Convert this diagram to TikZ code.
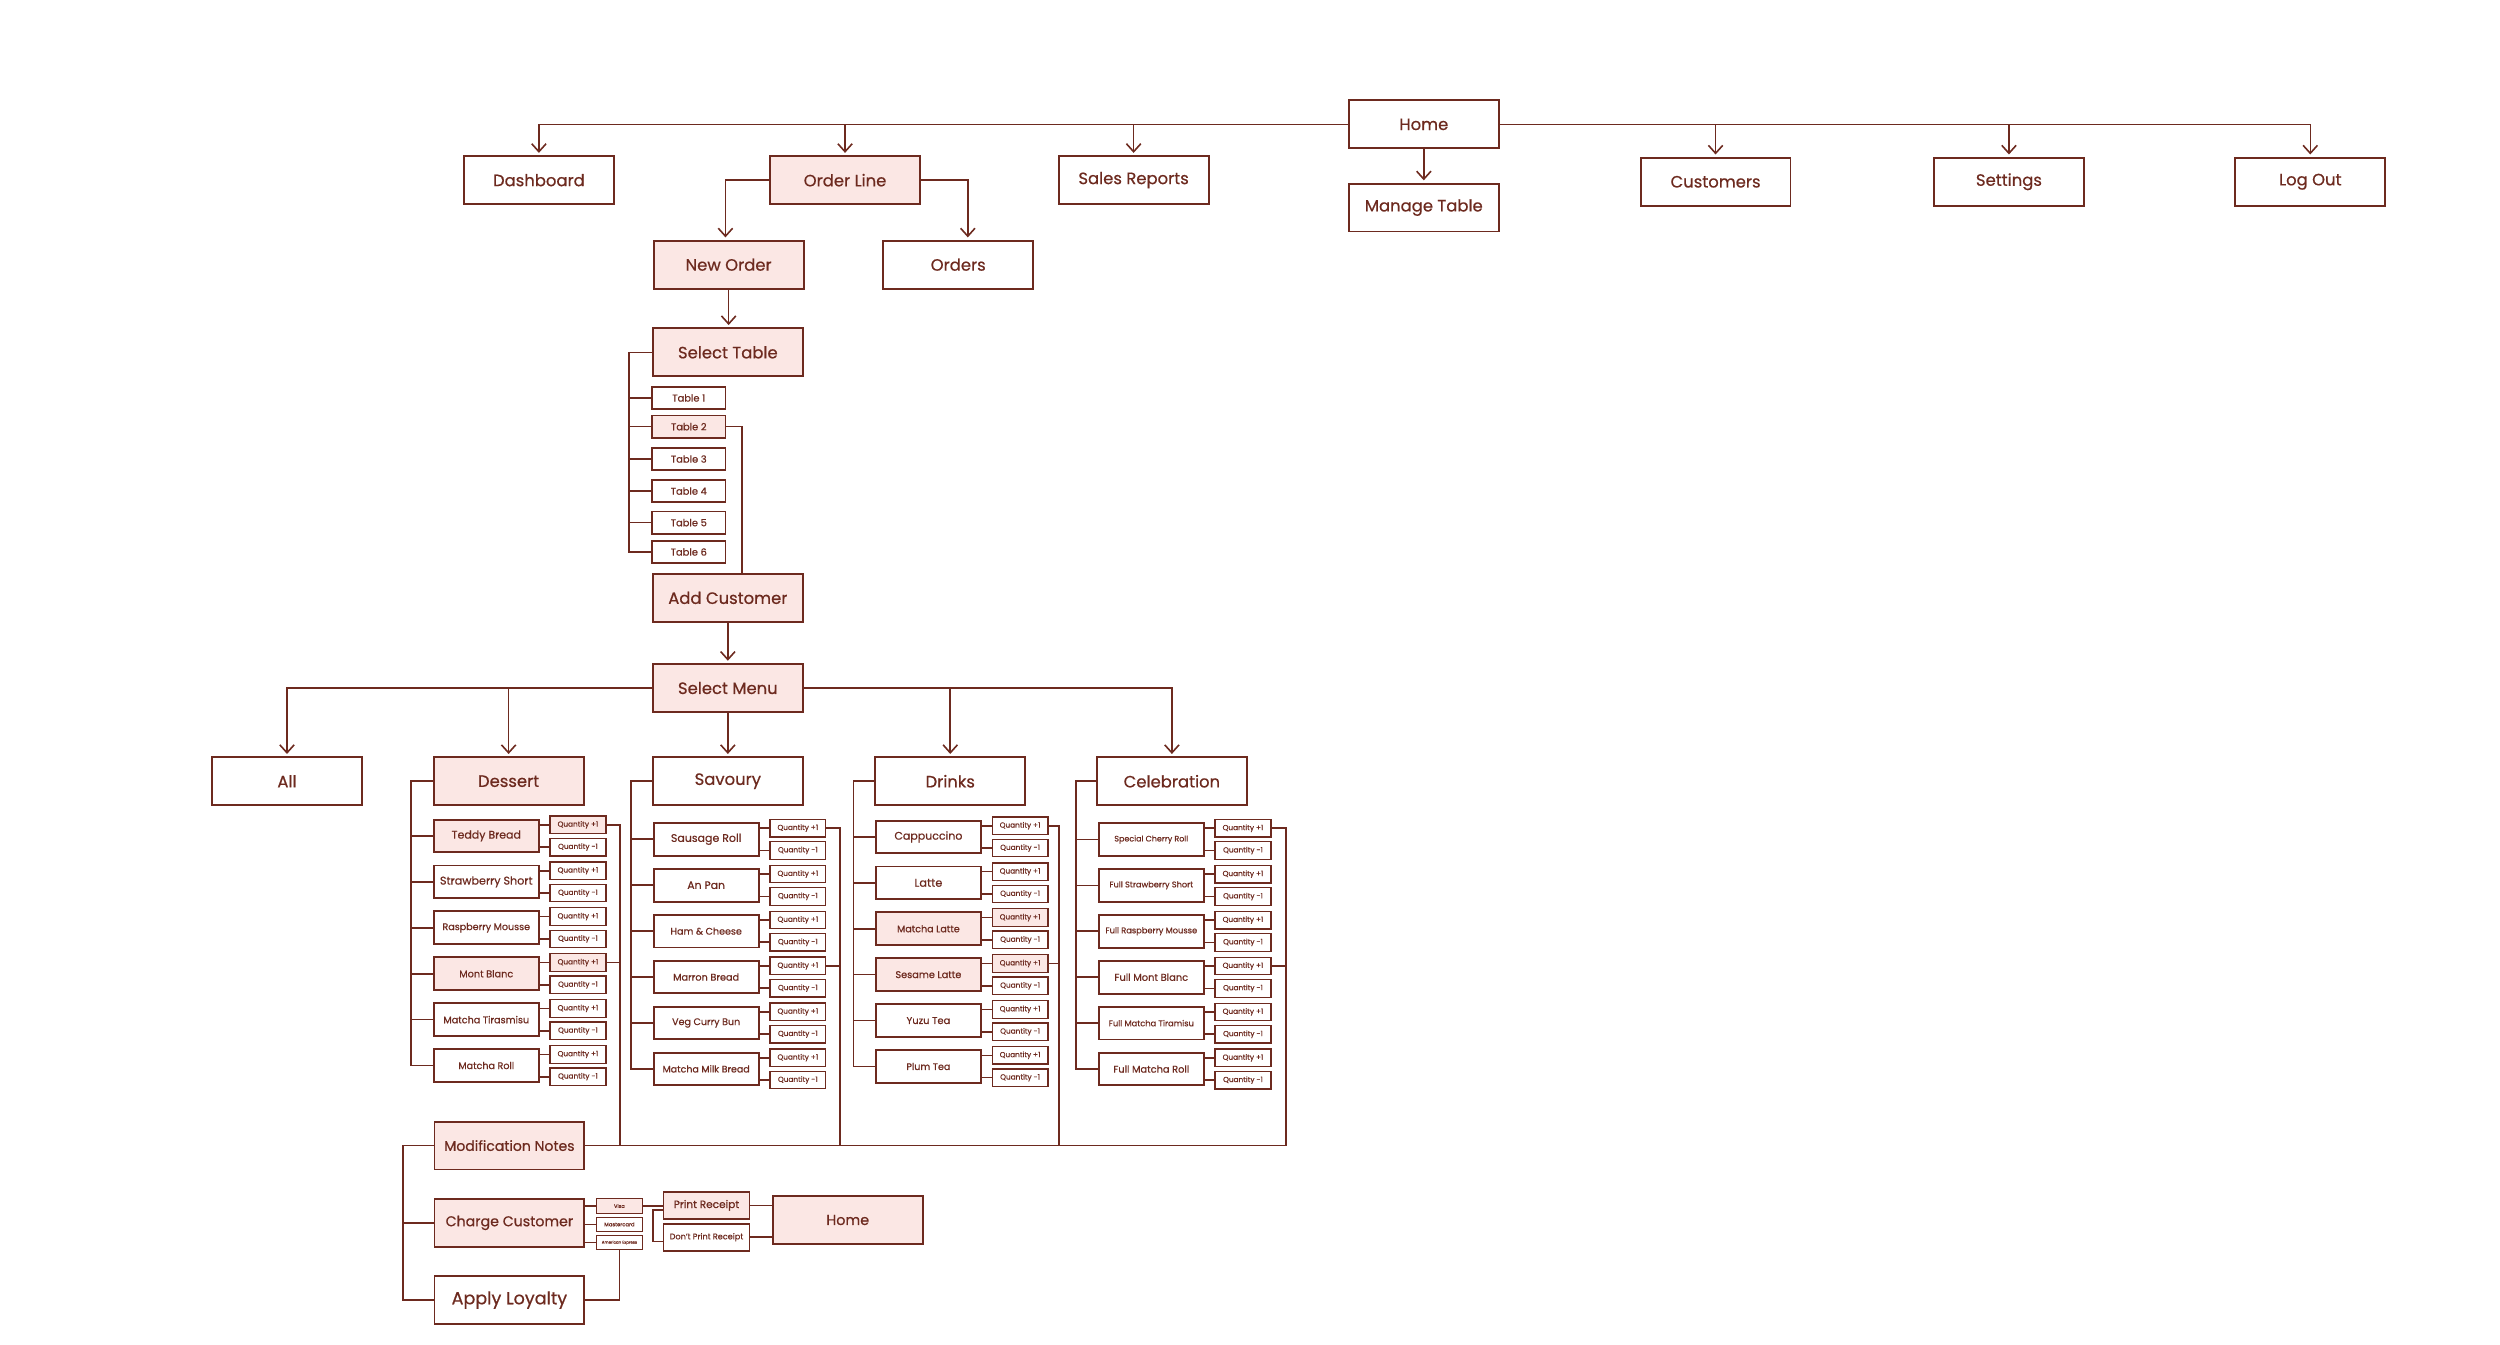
\documentclass[tikz,border=0pt]{standalone}
\usepackage{fontspec}
\setmainfont{Poppins}[FakeBold=0.6]
\usetikzlibrary{arrows.meta,positioning}

\definecolor{maroon}{HTML}{6D2A1F}
\definecolor{blush}{HTML}{FBE7E4}

\begin{document}
\begin{tikzpicture}[
  x=1pt, y=-1pt,
  box/.style={draw=maroon, line width=1.2pt, text=maroon, inner sep=0pt, minimum width=94pt, minimum height=30pt, font=\fontsize{10.3}{12}\selectfont},
  hl/.style={fill=blush},
  tbl/.style={box, line width=1pt, minimum width=46pt, minimum height=14pt, font=\fontsize{6.2}{7}\selectfont},
  item/.style={box, minimum width=66pt, minimum height=20.5pt},
  qty/.style={box, line width=0.8pt, minimum width=35pt, minimum height=11pt, font=\fontsize{4.6}{5}\selectfont},
  card/.style={box, line width=0.8pt, minimum width=29pt, minimum height=9pt, font=\fontsize{3.2}{3.5}\selectfont},
  rcpt/.style={box, line width=1pt, minimum width=54pt, minimum height=17pt, font=\fontsize{6.6}{7}\selectfont},
  link/.style={draw=maroon, line width=1pt},
  arrow/.style={link, -{Straight Barb[length=5pt,width=9pt]}, shorten >=1.5pt}
]
\useasboundingbox (0,0) rectangle (1568,843);
% 顶层导航
\node[box] (home) at (893,78) {Home};
\node[box] (dash) at (338,113) {Dashboard};
\node[box, hl] (orderline) at (530,113) {Order Line};
\node[box] (sales) at (711,113) {Sales Reports};
\node[box, below=21pt of home] (mtable) {Manage Table};
\node[box] (cust) at (1076,114) {Customers};
\node[box] (sett) at (1260,114) {Settings};
\node[box] (logout) at (1449,114) {Log Out};
\foreach \t in {dash,orderline,sales} \draw[arrow] (home.west) -| (\t.north);
\foreach \t in {cust,sett,logout} \draw[arrow] (home.east) -| (\t.north);
\draw[arrow] (home) -- (mtable);
% 下单流程
\node[box, hl] (neworder) at (457,166) {New Order};
\node[box] (orders) at (601,166) {Orders};
\draw[arrow] (orderline.west) -| ([xshift=-2pt]neworder.north);
\draw[arrow] (orderline.east) -| ([xshift=6pt]orders.north);
\node[box, hl] (seltable) at (456.5,221) {Select Table};
\draw[arrow] (neworder.south) -- (neworder.south |- seltable.north);
\foreach \i/\y/\s in {1/249.6/, 2/267.6/hl, 3/287.9/, 4/308/, 5/327.8/, 6/346.2/}
  \node[tbl, \s] (t\i) at (432,\y) {Table \i};
\draw[link] (seltable.west) -| ([xshift=-14pt]t6.west) -- (t6.west);
\foreach \i in {1,...,5} \draw[link] (t\i.west) -- ++(-14,0);
\node[box, hl] (addcust) at (456.5,375) {Add Customer};
\draw[link] (t2.east) -| ([xshift=9pt]addcust.north);
\node[box, hl] (selmenu) at (456.5,431.5) {Select Menu};
\draw[arrow] (addcust) -- (selmenu);
% 菜单分类
\node[box] (all) at (180,490) {All};
\node[box, hl] (dessert) at (319,490) {Dessert};
\node[box] (savoury) at (456.5,490) {Savoury};
\node[box] (drinks) at (596,490) {Drinks};
\node[box] (celeb) at (735,490) {Celebration};
\foreach \c in {all,dessert} \draw[arrow] (selmenu.west) -| (\c.north);
\foreach \c in {drinks,celeb} \draw[arrow] (selmenu.east) -| (\c.north);
\draw[arrow] (selmenu) -- (savoury);
% 底部结账
\node[box, hl, font=\fontsize{8.8}{10}\selectfont] (modnotes) at (319.5,718.5) {Modification Notes};
\node[box, hl, font=\fontsize{8.9}{10}\selectfont] (chargec) at (319.5,767) {Charge Customer};
\node[box, font=\fontsize{11}{12}\selectfont] (loyalty) at (319.5,815.4) {Apply Loyalty};
\draw[link] (modnotes.west) -- ++(-19,0) |- (loyalty.west);
\draw[link] (chargec.west) -- ++(-19,0);
% 甜品
\foreach \n/\lab/\s/\f in {1/Teddy Bread/hl/6.9, 2/Strawberry Short//7, 3/Raspberry Mousse//6, 4/Mont Blanc/hl/6.1, 5/Matcha Tirasmisu//6.05, 6/Matcha Roll//6} {
  \node[item, \s, font=\fontsize{\f}{8}\selectfont] (des\n) at (305,{524.3+28.8*(\n-1)}) {\lab};
  \node[qty, \s, anchor=west] (des\n p) at ([xshift=6pt, yshift=7pt]des\n.east) {Quantity +1};
  \node[qty, anchor=west] (des\n m) at ([xshift=6pt, yshift=-7pt]des\n.east) {Quantity -1};
  \draw[link] (des\n p.west -| des\n.east) -- (des\n p.west);
  \draw[link] (des\n m.west -| des\n.east) -- (des\n m.west);
}
\draw[link] (dessert.west) -| ([xshift=-13.5pt]des6.west) -- (des6.west);
\foreach \n in {1,...,5} \draw[link] (des\n.west) -- ++(-13.5,0);
\draw[link] (des1p.east) -- ++(8.6,0) |- (modnotes.east);
\draw[link] (des4p.east) -- ++(8.6,0);
% 咸点
\foreach \n/\lab/\f in {1/Sausage Roll/6.9, 2/An Pan/6.8, 3/Ham \& Cheese/6, 4/Marron Bread/6.1, 5/Veg Curry Bun/6, 6/Matcha Milk Bread/5.95} {
  \node[item, font=\fontsize{\f}{8}\selectfont] (sav\n) at (442.9,{526.4+28.8*(\n-1)}) {\lab};
  \node[qty, anchor=west] (sav\n p) at ([xshift=6pt, yshift=7pt]sav\n.east) {Quantity +1};
  \node[qty, anchor=west] (sav\n m) at ([xshift=6pt, yshift=-7pt]sav\n.east) {Quantity -1};
  \draw[link] (sav\n p.west -| sav\n.east) -- (sav\n p.west);
  \draw[link] (sav\n m.west -| sav\n.east) -- (sav\n m.west);
}
\draw[link] (savoury.west) -| ([xshift=-13.5pt]sav6.west) -- (sav6.west);
\foreach \n in {1,...,5} \draw[link] (sav\n.west) -- ++(-13.5,0);
\draw[link] (sav1p.east) -- ++(8.4,0) |- (modnotes.east);
\draw[link] (sav4p.east) -- ++(8.4,0);
% 饮品
\foreach \n/\lab/\s/\f in {1/Cappuccino//6.9, 2/Latte//7.1, 3/Matcha Latte/hl/6, 4/Sesame Latte/hl/6.1, 5/Yuzu Tea//6.2, 6/Plum Tea//6} {
  \node[item, \s, font=\fontsize{\f}{8}\selectfont] (drk\n) at (582.3,{524.9+28.8*(\n-1)}) {\lab};
  \node[qty, \s, anchor=west] (drk\n p) at ([xshift=6pt, yshift=7pt]drk\n.east) {Quantity +1};
  \node[qty, anchor=west] (drk\n m) at ([xshift=6pt, yshift=-7pt]drk\n.east) {Quantity -1};
  \draw[link] (drk\n p.west -| drk\n.east) -- (drk\n p.west);
  \draw[link] (drk\n m.west -| drk\n.east) -- (drk\n m.west);
}
\draw[link] (drinks.west) -| ([xshift=-13.5pt]drk6.west) -- (drk6.west);
\foreach \n in {1,...,5} \draw[link] (drk\n.west) -- ++(-13.5,0);
\draw[link] (drk1p.east) -- ++(6.5,0) |- (modnotes.east);
\draw[link] (drk4p.east) -- ++(6.5,0);
% 庆典蛋糕
\foreach \n/\lab/\f in {1/Special Cherry Roll/5, 2/Full Strawberry Short/5.15, 3/Full Raspberry Mousse/5.2, 4/Full Mont Blanc/6.2, 5/Full Matcha Tiramisu/5.2, 6/Full Matcha Roll/6.15} {
  \node[item, font=\fontsize{\f}{7}\selectfont] (cel\n) at (722.1,{526.5+28.8*(\n-1)}) {\lab};
  \node[qty, anchor=west] (cel\n p) at ([xshift=6pt, yshift=7pt]cel\n.east) {Quantity +1};
  \node[qty, anchor=west] (cel\n m) at ([xshift=6pt, yshift=-7pt]cel\n.east) {Quantity -1};
  \draw[link] (cel\n p.west -| cel\n.east) -- (cel\n p.west);
  \draw[link] (cel\n m.west -| cel\n.east) -- (cel\n m.west);
}
\draw[link] (celeb.west) -| ([xshift=-13.5pt]cel6.west) -- (cel6.west);
\foreach \n in {1,...,5} \draw[link] (cel\n.west) -- ++(-13.5,0);
\draw[link] (cel1p.east) -- ++(9,0) |- (modnotes.east);
\draw[link] (cel4p.east) -- ++(9,0);
% 付款与收据
\node[card, hl] (visa) at (388.5,756.4) {Visa};
\node[card, font=\fontsize{3.3}{3.5}\selectfont] (master) at (388.5,767.9) {Mastercard};
\node[card, font=\fontsize{2.5}{3}\selectfont] (amex) at (388.5,779.4) {American Express};
\foreach \c in {visa,master,amex} \draw[link] (\c.west -| chargec.east) -- (\c.west);
\draw[link] (amex.south) |- (loyalty.east);
\node[rcpt, hl] (print) at (443.1,756) {Print Receipt};
\node[rcpt, font=\fontsize{5.1}{6}\selectfont] (dontprint) at (443.1,776) {Don’t Print Receipt};
\node[box, hl, font=\fontsize{9}{10}\selectfont] (home2) at (531.7,765.2) {Home};
\draw[link] (visa.east) -- (visa.east -| print.west);
\draw[link] ([yshift=-3pt]print.west) -- ++(-6,0) |- ([yshift=-2.6pt]dontprint.west);
\draw[link] (print.east) -- (print.east -| home2.west);
\draw[link] (dontprint.east) -- (dontprint.east -| home2.west);
\end{tikzpicture}
\end{document}
